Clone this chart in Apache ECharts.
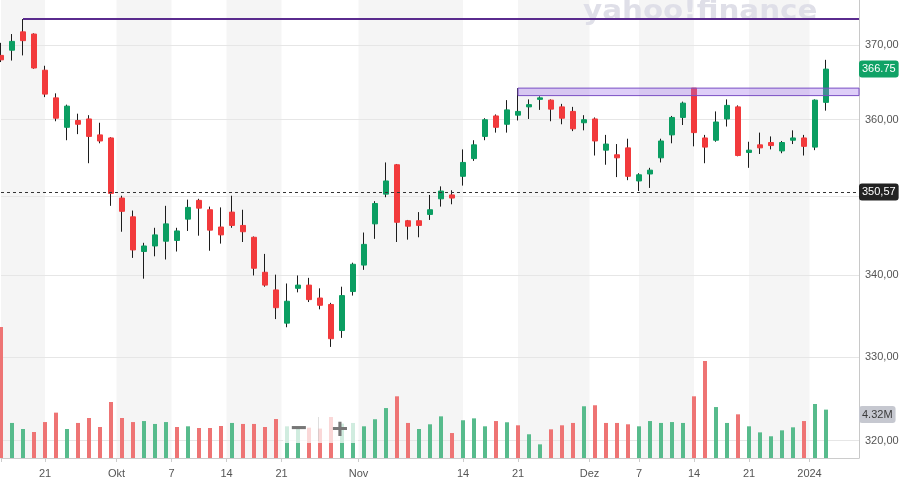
<!DOCTYPE html>
<html>
<head>
<meta charset="utf-8">
<script src="https://cdn.jsdelivr.net/npm/echarts@6.0.0/dist/echarts.min.js"></script>
<style>
html, body { margin: 0; padding: 0; background: #fff; }
#main { width: 915px; height: 492px; }
</style>
</head>
<body>
<div id="main"></div>
<script>
var dates = [
    '2023-09-15', '2023-09-18', '2023-09-19', '2023-09-20', '2023-09-21', '2023-09-22', '2023-09-25', '2023-09-26', '2023-09-27', '2023-09-28', '2023-09-29',
    '2023-10-02', '2023-10-03', '2023-10-04', '2023-10-05', '2023-10-06', '2023-10-09', '2023-10-10', '2023-10-11', '2023-10-12', '2023-10-13',
    '2023-10-16', '2023-10-17', '2023-10-18', '2023-10-19', '2023-10-20', '2023-10-23', '2023-10-24', '2023-10-25', '2023-10-26', '2023-10-27',
    '2023-10-30', '2023-10-31',
    '2023-11-01', '2023-11-02', '2023-11-03', '2023-11-06', '2023-11-07', '2023-11-08', '2023-11-09', '2023-11-10', '2023-11-13', '2023-11-14',
    '2023-11-15', '2023-11-16', '2023-11-17', '2023-11-20', '2023-11-21', '2023-11-22', '2023-11-24', '2023-11-27', '2023-11-28', '2023-11-29',
    '2023-11-30',
    '2023-12-01', '2023-12-04', '2023-12-05', '2023-12-06', '2023-12-07', '2023-12-08', '2023-12-11', '2023-12-12', '2023-12-13', '2023-12-14',
    '2023-12-15', '2023-12-18', '2023-12-19', '2023-12-20', '2023-12-21', '2023-12-22', '2023-12-26', '2023-12-27', '2023-12-28', '2023-12-29',
    '2024-01-02', '2024-01-03'
];
// empty trading days kept free on the right side
var padDates = ['2024-01-04', '2024-01-05', '2024-01-08'];

var opens = [
    368.6, 369.3, 371.8, 371.5, 366.6, 362.9, 359.0, 359.9, 360.1, 358.0, 357.6,
    349.8, 347.4, 343.0, 343.7, 344.3, 344.4, 347.1, 349.5, 348.3, 346.1,
    348.0, 346.3, 344.8, 340.4, 338.2, 334.1, 338.4, 338.8, 337.2, 336.4,
    333.2, 338.0,
    341.3, 346.5, 350.3, 354.1, 346.9, 346.9, 347.7, 349.7, 350.2, 352.6,
    354.9, 357.8, 360.5, 359.4, 360.6, 361.7, 362.7, 362.6, 361.7, 361.1,
    359.6,
    360.1, 356.0, 355.4, 356.3, 352.0, 352.9, 355.0, 358.0, 360.3, 364.2,
    357.6, 357.3, 360.1, 361.7, 355.7, 356.7, 357.0, 355.9, 357.3, 357.6,
    356.4, 362.3
];
var highs = [
    370.3, 371.5, 373.55, 371.6, 367.2, 363.5, 362.0, 360.8, 360.6, 359.6, 357.7,
    350.1, 348.2, 344.1, 346.0, 348.8, 346.0, 349.6, 349.7, 348.7, 348.6,
    350.1, 348.3, 344.9, 342.7, 340.1, 339.0, 340.0, 339.7, 338.4, 336.6,
    338.6, 341.6,
    345.4, 349.4, 354.4, 354.2, 347.0, 348.0, 350.2, 351.3, 350.8, 356.1,
    357.3, 360.2, 360.7, 362.6, 364.2, 362.7, 363.1, 362.7, 362.1, 361.7,
    360.6,
    360.3, 358.0, 356.8, 357.5, 353.0, 353.7, 357.5, 360.5, 362.4, 364.2,
    358.0, 361.1, 362.7, 361.9, 357.1, 358.3, 357.8, 357.2, 358.6, 358.0,
    362.7, 368.0
];
var lows = [
    367.7, 367.9, 368.6, 366.8, 363.0, 359.8, 357.3, 358.1, 354.3, 356.9, 348.8,
    345.5, 342.2, 339.6, 342.4, 342.0, 343.0, 345.6, 345.0, 343.1, 344.0,
    346.0, 344.2, 340.0, 338.6, 334.6, 333.6, 337.9, 336.7, 335.8, 331.2,
    332.3, 337.5,
    340.7, 344.6, 349.9, 344.2, 344.5, 344.8, 347.0, 348.7, 349.0, 351.4,
    354.6, 357.3, 358.3, 358.3, 359.9, 360.1, 361.3, 359.8, 359.4, 358.5,
    358.6,
    355.3, 354.1, 352.5, 352.1, 350.7, 351.1, 354.4, 356.9, 359.3, 356.5,
    354.3, 357.1, 359.1, 355.2, 353.7, 355.5, 356.1, 355.6, 356.8, 355.3,
    356.0, 361.2
];
var closes = [
    368.0, 370.5, 370.6, 366.9, 363.4, 360.2, 361.8, 359.4, 357.8, 357.2, 350.4,
    348.1, 343.2, 343.7, 345.1, 346.5, 345.6, 348.6, 348.5, 345.7, 345.1,
    346.3, 345.5, 340.9, 338.8, 336.0, 336.8, 338.8, 337.0, 336.3, 332.2,
    337.5, 341.4,
    343.9, 349.1, 352.0, 346.7, 346.2, 346.3, 348.3, 350.7, 349.8, 354.4,
    356.7, 360.0, 359.0, 361.3, 361.1, 362.0, 362.9, 361.4, 360.2, 358.8,
    360.0,
    357.2, 356.8, 355.0, 352.6, 352.8, 353.4, 357.2, 360.3, 362.2, 358.3,
    356.4, 359.7, 361.9, 355.3, 356.0, 356.3, 356.6, 357.0, 357.6, 356.5,
    362.6, 366.75
];
// volume in millions of shares
var volumes = [
    11.70, 3.13, 2.59, 2.32, 3.21, 4.05, 2.59, 3.13, 3.57, 2.77, 5.00,
    3.57, 3.21, 3.30, 3.04, 3.21, 2.77, 2.83, 2.68, 2.68, 2.86,
    3.13, 3.04, 3.04, 2.77, 3.48, 2.83, 2.83, 2.71, 2.63, 3.66,
    3.07, 3.13,
    2.83, 3.46, 4.46, 5.51, 3.13, 2.59, 3.01, 3.72, 2.23, 3.37,
    3.54, 2.83, 3.30, 3.19, 2.92, 2.12, 1.22, 2.56, 2.92, 3.13,
    4.62,
    4.71, 3.13, 3.13, 3.01, 2.83, 3.30, 3.13, 3.21, 3.13, 5.51,
    8.66, 4.55, 3.13, 3.90, 2.83, 2.29, 1.94, 2.47, 2.74, 3.30,
    4.82, 4.32
];
var prevClose = 369.0;

var priceTicks = [320, 330, 340, 350, 360, 370];
var tickDates = ['2023-09-21', '2023-10-01', '2023-10-07', '2023-10-14', '2023-10-21', '2023-11-01', '2023-11-14',
    '2023-11-21', '2023-12-01', '2023-12-07', '2023-12-14', '2023-12-21', '2024-01-01'];
var tickLabels = ['21', 'Okt', '7', '14', '21', 'Nov', '14', '21', 'Dez', '7', '14', '21', '2024'];

var resistanceDay = 2;   // horizontal line from this day's high
var zoneDay = 47;        // zone starts at this day's high
var zoneLow = 363.2;
var refPrice = 350.57;

var GREEN = '#0b9e62';
var RED = '#f23a3c';
var VOL_GREEN = '#57bb8c';
var VOL_RED = '#ee7474';
var FONT = '"Liberation Sans", Arial, sans-serif';
var CLEAR = 'rgba(0,0,0,0)';

function fmtComma(v) {
    return v.toFixed(2).replace('.', ',');
}

function buildSlots(categories) {
    // half-day slots so a tick can sit on a candle or between two candles
    var ids = [];
    var text = {};
    var ticks = [0];
    for (var j = 0; j < 2 * categories.length - 1; j++) {
        ids.push('s' + j);
    }
    text[0] = '';
    tickDates.forEach(function (d, k) {
        var i = 0;
        while (i < dates.length && dates[i] < d) {
            i++;
        }
        var slot = (dates[i] === d && d.slice(8) !== '01') ? 2 * i : 2 * i - 1;
        text[slot] = tickLabels[k];
        ticks.push(slot);
    });
    // every other gap between ticks gets the grey band
    var bands = [];
    for (var k = 0; k + 1 < ticks.length; k += 2) {
        bands.push([{ xAxis: 's' + ticks[k] }, { xAxis: 's' + ticks[k + 1] }]);
    }
    return { ids: ids, text: text, bands: bands };
}

function initChart() {
    var chart = echarts.init(document.getElementById('main'), null, { renderer: 'canvas' });
    var categories = dates.concat(padDates);
    var lastCat = categories[categories.length - 1];
    var last = dates.length - 1;
    var slots = buildSlots(categories);
    var isTick = function (index) {
        return slots.text[index] !== undefined;
    };

    var wickData = dates.map(function (d, i) {
        return [opens[i], closes[i], lows[i], highs[i]];
    });
    var bodyData = dates.map(function (d, i) {
        return [opens[i], closes[i], Math.min(opens[i], closes[i]), Math.max(opens[i], closes[i])];
    });
    var volumeData = volumes.map(function (v, i) {
        var before = i ? closes[i - 1] : prevClose;
        return { value: v, itemStyle: { color: closes[i] >= before ? VOL_GREEN : VOL_RED } };
    });

    var gridLines = priceTicks.map(function (v) {
        return {
            yAxis: v,
            label: { show: Math.abs(v - refPrice) > 3, formatter: fmtComma(v) }
        };
    });
    var tagLabel = {
        position: 'end',
        distance: 0,
        color: '#fff',
        fontSize: 11,
        fontFamily: FONT,
        padding: [3, 3, 3, 3],
        borderRadius: 3
    };

    var option = {
        animation: false,
        backgroundColor: '#fff',
        grid: {
            left: 1,
            right: 56,
            top: 0,
            bottom: 34,
            outerBoundsMode: 'none'
        },
        xAxis: [{
            type: 'category',
            position: 'top',
            show: false,
            boundaryGap: false,
            splitArea: { show: false },
            splitLine: { show: false },
            data: categories
        }, {
            type: 'category',
            position: 'bottom',
            boundaryGap: false,
            data: slots.ids,
            axisLine: { lineStyle: { color: '#cccccc' } },
            axisTick: { interval: isTick, length: 4, lineStyle: { color: '#cccccc' } },
            axisLabel: {
                interval: isTick,
                margin: 10,
                color: '#555',
                fontSize: 11,
                fontFamily: FONT,
                formatter: function (value, index) {
                    return slots.text[index] || '';
                }
            },
            splitLine: { show: false },
            splitArea: { show: false }
        }],
        yAxis: [{
            type: 'log',
            logBase: 10,
            position: 'right',
            min: 317.97,
            max: 376.17,
            axisLine: { show: true, lineStyle: { color: '#c8c8c8' } },
            axisTick: { show: false },
            axisLabel: { show: false },
            splitLine: { show: false },
            splitArea: { show: false }
        }, {
            type: 'value',
            position: 'left',
            show: false,
            min: 0,
            max: 40.9,
            splitLine: { show: false }
        }],
        graphic: [{
            type: 'text',
            x: 583,
            y: -1,
            scaleX: 1.13,
            z: 1.5,
            silent: true,
            style: {
                text: 'yahoo!finance',
                font: 'bold 26px "DejaVu Sans", sans-serif',
                fill: '#dfdfe8'
            }
        }, {
            type: 'rect',
            z: 20,
            silent: true,
            shape: { x: 283, y: 415, width: 75, height: 28 },
            style: { fill: 'rgba(255,255,255,0.72)' }
        }, {
            type: 'rect',
            z: 21,
            silent: true,
            shape: { x: 318, y: 417, width: 1, height: 24 },
            style: { fill: 'rgba(190,190,190,0.5)' }
        }, {
            type: 'text',
            z: 21,
            silent: true,
            x: 299,
            y: 429,
            style: { text: '\u2212', font: 'bold 28px ' + FONT, fill: '#777', align: 'center', verticalAlign: 'middle' }
        }, {
            type: 'text',
            z: 21,
            silent: true,
            x: 340,
            y: 430,
            style: { text: '+', font: 'bold 28px ' + FONT, fill: '#777', align: 'center', verticalAlign: 'middle' }
        }],
        series: [{
            name: 'Bands',
            type: 'line',
            xAxisIndex: 1,
            yAxisIndex: 1,
            z: 0,
            silent: true,
            data: [],
            markArea: {
                silent: true,
                z: 1,
                label: { show: false },
                itemStyle: { color: '#f5f5f5', borderWidth: 0 },
                data: slots.bands
            }
        }, {
            name: 'Volume',
            type: 'bar',
            xAxisIndex: 0,
            yAxisIndex: 1,
            barWidth: 4,
            data: volumeData,
            markLine: {
                silent: true,
                symbol: ['none', 'none'],
                data: [{
                    yAxis: volumes[last],
                    lineStyle: { color: CLEAR },
                    label: Object.assign({}, tagLabel, {
                        formatter: volumes[last].toFixed(2) + 'M',
                        color: '#3a3a3a',
                        backgroundColor: '#c6c8d0',
                        offset: [0, 5]
                    })
                }]
            }
        }, {
            name: 'Wick',
            type: 'candlestick',
            xAxisIndex: 0,
            yAxisIndex: 0,
            barWidth: 1,
            itemStyle: {
                color: '#1c1c1c',
                color0: '#1c1c1c',
                borderColor: '#1c1c1c',
                borderColor0: '#1c1c1c',
                borderWidth: 1
            },
            data: wickData,
            markLine: {
                // price grid, kept behind the candles
                silent: true,
                z: 1.2,
                symbol: ['none', 'none'],
                lineStyle: { color: '#e6e6e6', type: 'solid', width: 1 },
                label: { position: 'end', distance: 6, color: '#555', fontSize: 11, fontFamily: FONT },
                data: gridLines
            }
        }, {
            name: 'Body',
            type: 'candlestick',
            xAxisIndex: 0,
            yAxisIndex: 0,
            barWidth: 6,
            itemStyle: {
                color: GREEN,
                color0: RED,
                borderColor: GREEN,
                borderColor0: RED,
                borderWidth: 1
            },
            data: bodyData,
            markArea: {
                silent: true,
                z: 3,
                itemStyle: {
                    color: 'rgba(160,115,235,0.35)',
                    borderColor: '#7a4fc4',
                    borderWidth: 1
                },
                data: [[
                    { coord: [categories[zoneDay], highs[zoneDay]] },
                    { coord: [lastCat, zoneLow] }
                ]]
            },
            markLine: {
                silent: true,
                symbol: ['none', 'none'],
                data: [{
                    yAxis: refPrice,
                    lineStyle: { color: '#333', type: [3, 3], width: 1 },
                    label: Object.assign({}, tagLabel, { formatter: fmtComma(refPrice), backgroundColor: '#222' })
                }, {
                    yAxis: closes[last],
                    lineStyle: { color: CLEAR },
                    label: Object.assign({}, tagLabel, { formatter: closes[last].toFixed(2), backgroundColor: '#10a266' })
                }, [
                    {
                        coord: [categories[resistanceDay], highs[resistanceDay]],
                        lineStyle: { color: '#5a2b8e', width: 2, type: 'solid' },
                        label: { show: false }
                    },
                    { coord: [lastCat, highs[resistanceDay]] }
                ]]
            }
        }]
    };
    chart.setOption(option);
    return chart;
}

var chart = initChart();
window.addEventListener('resize', function () {
    chart.resize();
});
</script>
</body>
</html>
